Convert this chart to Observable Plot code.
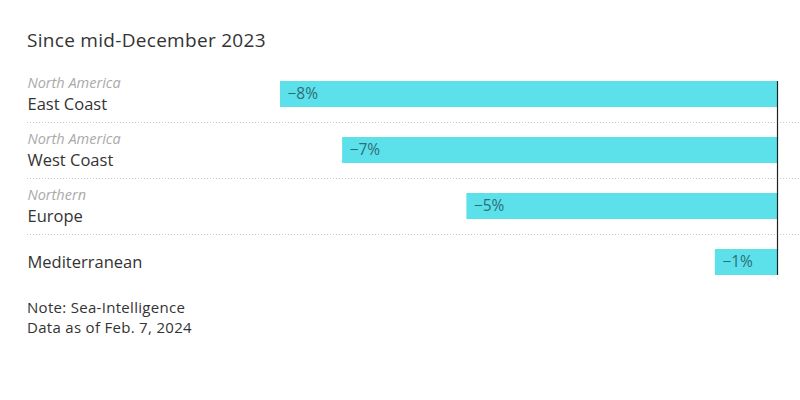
<!DOCTYPE html>
<html>
<head>
<meta charset="utf-8">
<script src="https://cdn.jsdelivr.net/npm/d3@7"></script>
<script src="https://cdn.jsdelivr.net/npm/@observablehq/plot@0.6"></script>
<style>
  body { margin: 0; background: #fff; font-family: "Open Sans", sans-serif; }
  #title { height: 60px; box-sizing: border-box; padding: 29px 0 0 27px; font-size: 19px; line-height: 22px; letter-spacing: 0.3px; color: #333; }
  #notes { padding: 1px 0 0 27px; font-size: 15px; line-height: 20px; letter-spacing: 0.3px; color: #333; }
  svg { display: block; }
</style>
</head>
<body>
<div id="title">Since mid-December 2023</div>
<div id="chart"></div>
<div id="notes">Note: Sea-Intelligence<br>Data as of Feb. 7, 2024</div>
<script>
const regions = ["East Coast", "West Coast", "Europe", "Mediterranean"];
const subLabels = ["North America", "North America", "Northern", ""];
const changes = [-8, -7, -5, -1];

const rows = regions.map((name, i) => ({name, sub: subLabels[i], value: changes[i]}));
const fmt = v => (v < 0 ? "\u2212" : "") + Math.abs(v) + "%";

const chart = Plot.plot({
  width: 800,
  height: 236,
  marginTop: 21,
  marginBottom: 21,
  marginLeft: 27,
  marginRight: 0,
  style: {fontFamily: "Open Sans, sans-serif", background: "#fff"},
  x: {domain: [-8, 0], range: [280, 777], axis: null},
  y: {domain: regions, range: [6, 230], paddingInner: 0.53, paddingOuter: 0.265, axis: null},
  marks: [
    Plot.ruleY(rows.slice(0, -1), {y: "name", dy: 28, stroke: "#c8c8c8", strokeDasharray: "1,2"}),
    Plot.barX(rows, {x1: "value", x2: 0, y: "name", fill: "#5ce1eb"}),
    Plot.ruleX([0], {stroke: "#222", strokeWidth: 1.2}),
    Plot.text(rows, {x: "value", y: "name", text: d => fmt(d.value), textAnchor: "start", dx: 7, fill: "#2f6d76", fontSize: 15.5, letterSpacing: 0.3}),
    Plot.text(rows.filter(d => d.sub), {y: "name", frameAnchor: "left", text: "sub", dy: -11, fill: "#aaa", fontStyle: "italic", fontSize: 14.5, letterSpacing: 0.3, textAnchor: "start"}),
    Plot.text(rows.filter(d => d.sub), {y: "name", frameAnchor: "left", text: "name", dy: 10, fill: "#333", fontSize: 16.5, letterSpacing: 0.3, textAnchor: "start"}),
    Plot.text(rows.filter(d => !d.sub), {y: "name", frameAnchor: "left", text: "name", dy: 0, fill: "#333", fontSize: 16.5, letterSpacing: 0.3, textAnchor: "start"})
  ]
});
document.getElementById("chart").appendChild(chart);
</script>
</body>
</html>
